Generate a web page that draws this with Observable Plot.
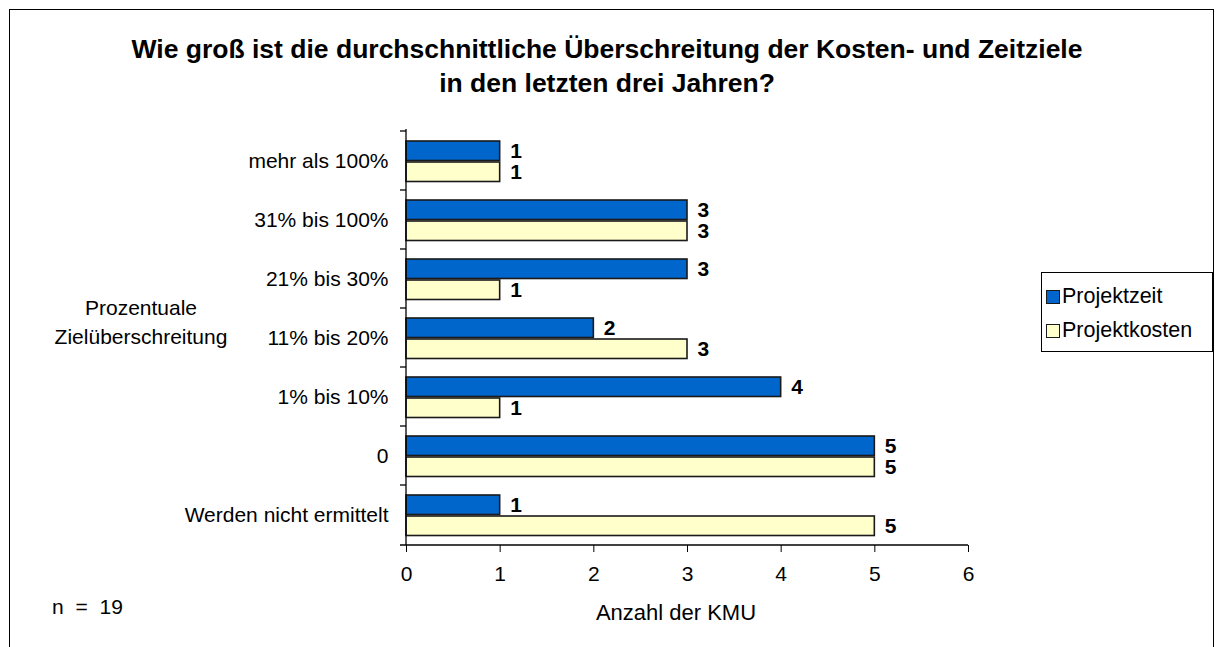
<!DOCTYPE html>
<html>
<head>
<meta charset="utf-8">
<script src="https://cdn.jsdelivr.net/npm/d3@7"></script>
<script src="https://cdn.jsdelivr.net/npm/@observablehq/plot@0.6"></script>
<style>
  html, body { margin: 0; padding: 0; overflow: hidden; background: #fff; }
  #wrap { position: relative; width: 1221px; height: 647px; overflow: hidden;
          font-family: "Liberation Sans", Arial, sans-serif; color: #000; }
  #chart { position: absolute; left: 0; top: 0; }
  #frame { position: absolute; left: 9px; top: 9px; width: 1205px; height: 720px;
           border: 1.5px solid #000; box-sizing: border-box; pointer-events: none; }
  #title { position: absolute; left: 0; width: 1214px; top: 32px; text-align: center;
           font-weight: bold; font-size: 26.5px; line-height: 34px; }
  #ylabel { position: absolute; left: 41px; width: 200px; top: 293px; text-align: center;
            font-size: 21px; line-height: 29px; }
  #xlabel { position: absolute; left: 576px; width: 200px; top: 600px; text-align: center;
            font-size: 22px; }
  #note { position: absolute; left: 52px; top: 595px; font-size: 21px; word-spacing: 6px; }
  #legend { position: absolute; left: 1041px; top: 272px; width: 172px; height: 80px;
            border: 1px solid #000; box-sizing: border-box; font-size: 21.5px; background: #fff; }
  .item { position: absolute; left: 4px; height: 24px; line-height: 24px; white-space: nowrap; }
  .sw { display: inline-block; width: 12px; height: 12px; border: 1.5px solid #1a1a1a;
        vertical-align: -1px; margin-right: 2px; }
</style>
</head>
<body>
<div id="wrap">
  <div id="chart"></div>
  <div id="title"></div>
  <div id="ylabel"></div>
  <div id="xlabel"></div>
  <div id="note"></div>
  <div id="legend"></div>
  <div id="frame"></div>
</div>
<script>
// ---- data ----
const titleLines = ["Wie groß ist die durchschnittliche Überschreitung der Kosten- und Zeitziele",
                    "in den letzten drei Jahren?"];
const categories = ["mehr als 100%", "31% bis 100%", "21% bis 30%", "11% bis 20%",
                    "1% bis 10%", "0", "Werden nicht ermittelt"];
const seriesNames = ["Projektzeit", "Projektkosten"];
const seriesColors = ["#0066CC", "#FFFFCC"];
const projektzeit = [1, 3, 3, 2, 4, 5, 1];
const projektkosten = [1, 3, 1, 3, 1, 5, 5];
const xTicks = [0, 1, 2, 3, 4, 5, 6];
const yAxisLabel = ["Prozentuale", "Zielüberschreitung"];
const xAxisLabel = "Anzahl der KMU";
const noteText = "n = 19";

// ---- rows ----
const zeitRows = categories.map((c, i) => ({category: c, series: seriesNames[0], value: projektzeit[i]}));
const kostenRows = categories.map((c, i) => ({category: c, series: seriesNames[1], value: projektkosten[i]}));

const font = "'Liberation Sans', Arial, sans-serif";

const axisLines = (index, scales, values, dims) => {
  const g = d3.create("svg:g").attr("stroke", "#000").attr("stroke-width", 1.3).attr("fill", "none");
  const x0 = scales.x(xTicks[0]);
  const x1 = scales.x(xTicks[xTicks.length - 1]);
  const yt = dims.marginTop;
  const yb = dims.height - dims.marginBottom;
  g.append("line").attr("x1", x0).attr("x2", x0).attr("y1", yt).attr("y2", yb);
  g.append("line").attr("x1", x0 - 6).attr("x2", x1).attr("y1", yb).attr("y2", yb);
  for (const c of categories) {
    const y = scales.y(c);
    g.append("line").attr("x1", x0 - 6).attr("x2", x0).attr("y1", y).attr("y2", y);
  }
  return g.node();
};

const chart = Plot.plot({
  width: 1221,
  height: 647,
  marginLeft: 406,
  marginRight: 253,
  marginTop: 129,
  marginBottom: 102,
  style: {background: "transparent", fontFamily: font, fontSize: "21px", color: "#000"},
  x: {domain: [xTicks[0], xTicks[xTicks.length - 1]]},
  y: {domain: categories, padding: 0},
  marks: [
    Plot.barX(zeitRows, {x: "value", y: "category", fill: seriesColors[0], stroke: "#1a1a1a",
      strokeWidth: 1.6, insetTop: 10, insetBottom: 29.5}),
    Plot.barX(kostenRows, {x: "value", y: "category", fill: seriesColors[1], stroke: "#1a1a1a",
      strokeWidth: 1.6, insetTop: 31, insetBottom: 8.5}),
    Plot.text(zeitRows, {x: "value", y: "category", text: d => String(d.value), dx: 10, dy: -9.5,
      textAnchor: "start", fontWeight: "bold", fontSize: 21, fill: "#000"}),
    Plot.text(kostenRows, {x: "value", y: "category", text: d => String(d.value), dx: 10, dy: 11.5,
      textAnchor: "start", fontWeight: "bold", fontSize: 21, fill: "#000"}),
    Plot.axisY({tickSize: 0, tickPadding: 18, fontSize: 21, label: null}),
    Plot.axisX({ticks: xTicks, tickSize: 7, tickPadding: 14, fontSize: 21, label: null,
      tickFormat: d => String(d)}),
    axisLines
  ]
});
document.getElementById("chart").appendChild(chart);

document.getElementById("title").innerHTML = titleLines.join("<br>");
document.getElementById("ylabel").innerHTML = yAxisLabel.join("<br>");
document.getElementById("xlabel").textContent = xAxisLabel;
document.getElementById("note").textContent = noteText;
const legend = document.getElementById("legend");
seriesNames.forEach((s, i) => {
  const it = document.createElement("div");
  it.className = "item";
  it.style.top = (11 + i * 34) + "px";
  const sw = document.createElement("span");
  sw.className = "sw";
  sw.style.background = seriesColors[i];
  it.appendChild(sw);
  it.appendChild(document.createTextNode(s));
  legend.appendChild(it);
});
</script>
</body>
</html>
